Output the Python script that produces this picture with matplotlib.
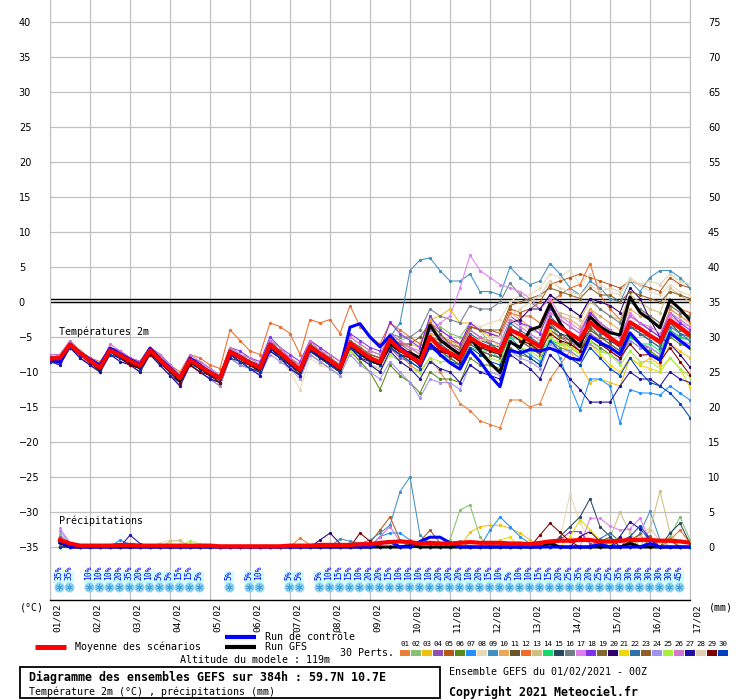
import numpy as np
import matplotlib
matplotlib.use("Agg")
import matplotlib.pyplot as plt
from matplotlib.patches import Rectangle

# ---------------------------------------------------------------- data
dates = ["01/02", "02/02", "03/02", "04/02", "05/02", "06/02", "07/02", "08/02", "09/02",
         "10/02", "11/02", "12/02", "13/02", "14/02", "15/02", "16/02", "17/02"]

member_colors = ["#e8803a", "#88c070", "#f0c010", "#9050b0", "#b85818", "#5a8a18",
                 "#1e90ff", "#e8dab8", "#4090c0", "#e8a858", "#6a5428", "#f06a28",
                 "#d0c080", "#18d868", "#284860", "#708088", "#e080f0", "#8030f0",
                 "#806830", "#300070", "#f0d800", "#3070a8", "#906028", "#a090f0",
                 "#a8f040", "#d078d0", "#2010a0", "#e0d0b0", "#800000", "#0040c0"]

# temperature 2m (°C), every 6h from 01/02 00Z to 17/02 00Z
t_mean = [-8.1, -8.0, -6.1, -7.3, -8.4, -9.4, -6.9, -7.6, -8.4, -9.1, -6.9, -8.3,
          -9.6, -10.9, -8.3, -9.2, -10.1, -10.9, -7.1, -7.9, -8.7, -9.4, -6.1, -7.3,
          -8.5, -9.7, -6.4, -7.4, -8.4, -9.4, -5.9, -7.0, -8.0, -8.6, -5.4, -6.8,
          -7.7, -8.7, -5.0, -6.5, -7.3, -8.0, -5.1, -6.0, -6.6, -7.1, -4.0, -4.6,
          -5.5, -6.4, -2.6, -3.6, -4.5, -5.4, -2.9, -4.0, -5.1, -6.1, -2.9, -3.8,
          -4.8, -5.7, -2.6, -3.6, -4.7]
t_ctrl = [-8.3, -8.6, -6.2, -7.3, -8.2, -9.0, -6.6, -7.4, -8.2, -8.9, -6.6, -8.1,
          -9.4, -10.8, -8.0, -9.0, -10.0, -10.8, -7.0, -7.8, -8.6, -9.3, -6.0, -7.3,
          -8.6, -9.8, -6.5, -7.6, -8.5, -9.5, -3.6, -3.1, -5.0, -6.4, -4.8, -6.5,
          -7.5, -9.0, -6.0, -7.5, -8.7, -9.6, -6.9, -8.5, -10.5, -12.1, -6.9, -7.3,
          -6.8, -7.0, -6.6, -7.2, -8.0, -8.3, -4.9, -5.8, -6.5, -7.5, -4.4, -6.0,
          -7.5, -8.3, -4.4, -5.5, -6.6]
t_gfs = [-8.0, -8.1, -6.0, -7.2, -8.5, -9.6, -7.0, -7.7, -8.6, -9.3, -7.0, -8.5,
         -9.8, -11.2, -8.5, -9.4, -10.3, -11.0, -7.2, -8.0, -8.8, -9.6, -6.3, -7.5,
         -8.7, -9.9, -6.6, -7.7, -8.6, -9.6, -6.1, -7.2, -8.2, -8.8, -6.0, -7.0,
         -7.3, -8.0, -3.3, -5.4, -6.5, -7.5, -5.0, -7.0, -8.7, -10.1, -5.7, -6.5,
         -4.0, -3.5, -0.3, -3.0, -5.0, -6.4, -2.1, -3.5, -4.4, -4.7, 0.7, -1.5,
         -2.5, -3.7, 0.3, -1.0, -2.6]

t01 = [-8, -8, -6, -7.5, -8.5, -9.5, -7, -7.5, -8, -9, -7, -8.5, -9.5, -11, -8, -9,
       -10, -11, -7, -8, -9, -9.5, -6, -7.5, -9, -10, -6.5, -7.5, -8.5, -9.5, -6, -7,
       -8, -9, -6.5, -7.5, -9, -10, -8, -10, -12, -14.5, -15.5, -17, -17.5, -18, -14, -14,
       -15, -14.5, -11, -9, -7, -5, -1, -3, -4, -5, -2, -3, -4, -5, -1, -2, -3]
t02 = [-8, -8, -6, -7, -8, -9, -6.5, -7.5, -8, -9, -6.5, -8, -9.5, -10.5, -8, -9,
       -10, -10.5, -6.5, -7.5, -8, -9, -5.5, -7, -8, -9, -6, -7, -8, -9, -5.5, -6.5,
       -7.5, -8, -5, -5.5, -5, -6, -2.5, -3.5, -4.5, -5, -3, -4, -6, -7, -4, -5,
       -6, -7, -3, -5.5, -6.5, -7.5, -5, -6, -7, -8, -5, -6, -7, -8, -4.5, -5.5, -6.5]
t03 = [-8, -8, -6, -7.5, -8.5, -9.5, -7, -7.5, -8.5, -9, -7, -8, -9.5, -11, -8.5, -9,
       -10, -11, -7, -8, -8.5, -9.5, -6, -7, -8.5, -9.5, -6.5, -7.5, -8, -9, -6, -7,
       -7.5, -8, -5, -6, -6, -6.5, -2.5, -2, -1, -3, -3, -4, -5, -6.5, -4, -5,
       -6, -7, -4, -6, -7, -9, -11.5, -11, -11.5, -12, -8, -9, -8, -9, -6, -7, -8]
t04 = [-8.5, -8.5, -6.5, -7.5, -8.5, -9.5, -7, -8, -8.5, -9.5, -7.5, -8.5, -10, -11, -8.5, -9.5,
       -10.5, -11, -7.5, -8.5, -9, -10, -6.5, -8, -9, -10, -7, -8, -9, -10, -6.5, -8,
       -9, -9.5, -6.5, -8, -8.5, -9.5, -6, -7, -8, -9, -5.5, -7, -7.5, -8, -4.5, -5.5,
       -6.5, -7.5, -4, -5, -5.5, -7, -4.5, -5.5, -7, -8, -5, -6, -6.5, -7.5, -4, -5, -5.5]
t05 = [-8, -7.5, -6, -7, -8, -9, -6.5, -7.5, -8, -9, -6.5, -8, -9.5, -10.5, -8, -9,
       -10, -10.5, -7, -7.5, -8.5, -9, -6, -7, -8, -9.5, -6, -7, -8, -9, -5.5, -6.5,
       -7.5, -8, -5, -6, -6.5, -7.5, -4.5, -5, -5.5, -6, -3.5, -4, -4, -4.5, -1, -1.5,
       -1, 0, 2.5, 3, 3.5, 4, 3.5, 3, 2.5, 2, 3, 2.5, 2, 1.5, 3.5, 2.5, 2]
t06 = [-8.5, -9, -6.5, -7.5, -9, -10, -7.5, -8, -9, -10, -7.5, -9, -10.5, -12, -9, -10,
       -11, -12, -8, -9, -9.5, -10.5, -7, -8, -9.5, -10.5, -7.5, -8.5, -9.5, -10.5, -7, -8.5,
       -10, -12.5, -9, -10.5, -11.5, -13, -10, -11, -11, -11.5, -8, -9, -9, -9.5, -6.5, -7.5,
       -8, -9, -5.5, -6.5, -7, -8, -5.5, -6.5, -7.5, -8.5, -5.5, -6.5, -7, -8, -5, -6, -6.5]
t07 = [-8, -8.5, -6.5, -7.5, -8.5, -9.5, -7, -8, -9, -9.5, -7.5, -8.5, -10, -11.5, -9, -9.5,
       -10.5, -11.5, -7.5, -8, -9, -10, -7, -8, -9, -10, -7, -8, -9, -10, -6.5, -7.5,
       -8.5, -9, -6.5, -7.5, -8, -9, -6, -7, -7.5, -8, -6, -7, -7.5, -8, -5, -6.5,
       -7.5, -8.5, -5, -8, -12, -15.4, -11, -11, -12, -17.3, -12.5, -13, -13, -13.3, -12, -13, -14]
t08 = [-8, -8, -6, -7, -8.5, -9.5, -7, -7.5, -8, -9, -7, -8, -9.5, -11, -8, -9,
       -10, -11, -7.5, -8, -9, -10, -7, -8, -10, -12.5, -8, -9, -9.5, -10.5, -7, -8,
       -9, -9.5, -6.5, -7.5, -8, -9, -6, -6.5, -6, -6.5, -3, -3.5, -3, -2.5, 0, 1,
       1, 2, 4, 3.5, 4.6, 2.5, 4, 2.5, 1.5, 1, 3.5, 2.5, 1.5, 1, 2.5, 1.5, 1]
t09 = [-8.5, -8.5, -6.5, -7.5, -8.5, -9.5, -7, -8, -8.5, -9.5, -7, -8.5, -10, -11, -8, -9,
       -10, -11, -7.5, -8.5, -9, -10, -6.5, -7.5, -8.5, -10, -7, -8, -9, -10, -6.5, -7.5,
       -7, -7.5, -5, -3, 4.5, 6, 6.3, 4.5, 3, 3, 4, 1.5, 1.5, 1, 5, 3.5,
       2.5, 3, 5.5, 4, 2, 1, 3, 2, 0.5, 0, 3, 1.5, 3.5, 4.5, 4.5, 3.5, 2]
t10 = [-7.5, -7.5, -5.5, -7, -8, -9, -6.5, -7, -8, -8.5, -6.5, -7.5, -9, -10.5, -8, -8.5,
       -9.5, -10.5, -6.5, -7.5, -8, -9, -5.5, -6.5, -8, -9, -5.5, -6.5, -7.5, -8.5, -5, -6,
       -7, -7.5, -4.5, -5.5, -6.5, -7.5, -4.5, -5, -5.5, -6.5, -3.5, -4, -4.5, -5, -1.5, -2.5,
       -3.5, -4, -1, -2, -2.5, -3.5, -1, -2, -3, -4, -1, -2, -2.5, -3.5, -0.5, -1.5, -2]
t11 = [-8.5, -8.5, -6.5, -7.5, -8.5, -9.5, -7, -8, -8.5, -9.5, -7, -8.5, -9.5, -11, -8.5, -9.5,
       -10.5, -11, -7, -8, -9, -9.5, -6.5, -7.5, -8.5, -10, -6.5, -7.5, -8.5, -9.5, -6, -7,
       -8, -8.5, -5, -6, -6, -5, -3, -4.5, -6, -7, -4, -5, -6, -7, -3.5, -5,
       -6, -7.5, -3, -4.5, -5.5, -6, -3.5, -5, -6, -7, -3.5, -4, -5, -6, -2.5, -3.5, -4.5]
t12 = [-8, -8, -6, -7, -8, -8.5, -6.5, -7, -8, -8.5, -6.5, -7.5, -9, -10, -7.5, -8,
       -9, -9.5, -4, -5.5, -7, -7.5, -3, -3.5, -4.5, -7.5, -2.5, -3, -2.5, -4.5, -0.5, -3.5,
       -5, -6, -3, -4, -5, -6, -3, -4, -5, -6, -3.5, -4, -4.5, -5, -1.5, -2,
       -2, -3, 0, 1, 2, 2.5, 5.5, 1, -1, -2.5, 0, -1, -2, -3, 0, -1, -1.5]
t13 = [-8, -8, -6, -7, -8, -9, -6.5, -7.5, -8, -9, -6.5, -8, -9.5, -10.5, -8, -9,
       -10, -11, -7, -8, -8.5, -9.5, -6, -7, -8.5, -9.5, -6, -7.5, -8, -9, -5.5, -7,
       -8, -8.5, -5.5, -6.5, -7.5, -8, -5, -6, -7, -7.5, -4.5, -5.5, -5.5, -6, -2.5, -3,
       -4, -4.5, -1, -1.5, -2, -2.5, 0, -1, -2, -2.5, 1, 0, -1, -1.5, 2, 1, 0]
t14 = [-8, -8, -6, -7.5, -8.5, -9.5, -7, -7.5, -8.5, -9, -7, -8.5, -9.5, -11, -8.5, -9,
       -10, -11, -7, -8, -8.5, -9.5, -6, -7.5, -8.5, -9.5, -6.5, -7.5, -8.5, -9.5, -6, -7,
       -8.5, -9, -6.5, -7.5, -8.5, -9.5, -6.5, -7.5, -8, -9, -6.5, -7, -7, -8, -5, -5.5,
       -6, -7, -5.5, -6, -6, -7, -5, -6, -6.5, -7.5, -5, -6, -6, -7, -4, -5, -5.5]
t15 = [-8.5, -8.5, -6, -7.5, -8.5, -9.5, -7, -8, -8.5, -9, -7, -8.5, -10, -11, -8.5, -9.5,
       -10.5, -11, -7, -8, -9, -9.5, -6.5, -7.5, -8.5, -9.5, -6.5, -7.5, -8.5, -9.5, -6, -7,
       -8, -8.5, -6, -7, -8, -9, -6, -7, -7.5, -8.5, -5.5, -6.5, -7, -7.5, -4, -5,
       -6, -7, -3.5, -4.5, -5, -6, -4, -5, -5.5, -6.5, -3.5, -4.5, -5.5, -6.5, -3, -4.5, -5]
t16 = [-8, -8, -6, -7, -8, -9, -6.5, -7.5, -8, -9, -6.5, -8, -9, -10.5, -8, -9,
       -10, -10.5, -7, -7.5, -8.5, -9, -6, -7, -8, -9.5, -6, -7, -8, -9, -5.5, -6.5,
       -7.5, -8, -4.5, -5, -5, -4, -1, -2, -2.5, -3, -0.5, -1, -1, 0, 2.7, 1,
       0, -1, 1, 0, -1, -2, 0.5, -1, -2, -3, 0, -1, -2, -3, -0.5, -1.5, -2]
t17 = [-7.5, -7.5, -6, -7, -8, -9, -6.5, -7, -8, -9, -6.5, -8, -9, -10.5, -8, -9,
       -10, -11, -7, -8, -8.5, -9, -6, -7, -8, -9, -6, -7, -8, -9, -5.5, -6.5,
       -7.5, -8, -5, -6, -6.5, -7.5, -4, -3, -2, 2, 6.7, 4.5, 3.5, 2.5, 2, 1.5,
       0.5, -1, 0.5, -2, -3, -4, -1.5, -3, -4, -5, -1.5, -3, -4, -5, -2, -3, -3.5]
t18 = [-7.5, -7.5, -6, -7, -8, -9, -6.5, -7, -8, -8.5, -6.5, -7.5, -9, -10.5, -8, -8.5,
       -9.5, -10.5, -6.5, -7, -8, -8.5, -5, -6.5, -7.5, -8.5, -5.5, -6.5, -7.5, -8.5, -4.5, -5.5,
       -6.5, -7, -2.9, -4.5, -5.5, -6.5, -2, -4, -5, -6, -3, -4, -4.5, -5, -2, -3,
       -3.5, -4.5, -1, -2.5, -3.5, -4.5, -1.5, -3, -4, -5, -2, -3, -4, -5, -1.5, -3, -4]
t19 = [-8.5, -8.5, -6.5, -7.5, -8.5, -10, -7, -8, -9, -9.5, -7, -8.5, -10, -11.5, -8.5, -9.5,
       -10.5, -11.5, -7.5, -8.5, -9, -10, -6.5, -7.5, -9, -10, -7, -8, -9, -10, -6.5, -7.5,
       -8.5, -9, -6.5, -7.5, -8, -9, -6, -7, -8, -9, -6, -7, -7.5, -8, -4.5, -5.5,
       -6.5, -7.5, -4, -5, -6, -7, -4, -5, -6, -7, -3.5, -4.5, -5, -6, -3, -4, -5]
t20 = [-8.5, -8.5, -6.5, -8, -9, -10, -7.5, -8, -9, -9.5, -7.5, -9, -10.5, -11.5, -9, -10,
       -11, -11.5, -7.5, -8.5, -9.5, -10, -7, -8, -9, -10.5, -7, -8, -9, -10, -6.5, -8,
       -8.5, -9, -6, -7, -8, -9, -6, -7, -7.5, -8.5, -5.5, -6.5, -6.5, -7, -3, -2.5,
       -1, -1, 1, 0, -1, -2, 0.5, 0, -0.5, -1.5, 2, 0.5, -2.5, -5, -6, -7.5, -9.3]
t21 = [-8, -8, -6, -7.5, -8.5, -9.5, -7, -7.5, -8.5, -9, -7, -8.5, -9.5, -11, -8.5, -9.5,
       -10, -11, -7, -8, -9, -9.5, -6.5, -7.5, -8.5, -10, -6.5, -7.5, -8.5, -9.5, -6, -7,
       -8, -8.5, -6, -7, -7.5, -8.5, -5.5, -6.5, -7, -8, -5, -6, -6.5, -7, -4, -5,
       -6, -7, -4, -6, -6, -7.5, -6, -7.5, -9, -10, -8, -9, -9.5, -10, -8, -9.5, -12.2]
t22 = [-8, -8.5, -6.5, -7.5, -8.5, -9.5, -7, -8, -8.5, -9, -7, -8.5, -9.5, -11, -8.5, -9.5,
       -10, -11, -7, -8, -8.5, -9.5, -6, -7.5, -8.5, -9.5, -6.5, -7.5, -8.5, -9.5, -6, -7,
       -8, -8.5, -5.5, -6.5, -7.5, -8, -5, -6, -7, -7.5, -4.5, -5.5, -6, -6.5, -3, -4,
       -5, -6, -2, -3.5, -4.5, -5.5, -3, -4.5, -5, -6.5, -3.5, -4.5, -5.5, -6.5, -3.5, -4.5, -5.5]
t23 = [-8, -8, -6, -7, -8, -9, -6.5, -7.5, -8, -9, -6.5, -8, -9.5, -10.5, -8, -9,
       -10, -10.5, -7, -7.5, -8.5, -9, -5.5, -7, -8, -9, -6, -7, -8, -9, -5.5, -6.5,
       -7.5, -8, -5, -6, -7, -8, -5, -5.5, -6, -6.5, -3.5, -4, -4, -4, -0.5, 0,
       0.5, 1, 2, 1.5, 1, 0.5, 2, 1, 1, 0, 1.5, 1, 0.5, 0, 1.5, 1, 0.5]
t24 = [-8.5, -8.5, -6.5, -7.5, -9, -10, -7.5, -8.5, -9, -10, -7.5, -9, -10.5, -12, -9, -10,
       -11, -12, -8, -9, -9.5, -10.5, -7.5, -8.5, -9.5, -11, -7.5, -8.5, -9.5, -10.5, -7.5, -9,
       -10, -11, -8.5, -10, -11.5, -13.7, -11, -11.5, -11.5, -12.5, -9, -10, -10, -10.5, -7, -8,
       -8.5, -9.5, -6, -7, -7, -8, -6, -7, -7.5, -8.5, -5.5, -6.5, -6.5, -7.5, -4.5, -5.5, -6]
t25 = [-8, -8, -6, -7, -8.5, -9.5, -7, -7.5, -8.5, -9, -6.5, -8, -9.5, -11, -8, -9,
       -10, -11, -6.5, -7.5, -8.5, -9.5, -6, -7.5, -9, -10, -7, -8, -9, -10, -7, -8,
       -9, -10, -7.5, -8.5, -9.5, -10.1, -8, -8.5, -8.5, -9, -6.5, -7.5, -8, -8.5, -5.5, -6.5,
       -7, -8, -5, -6, -6.5, -7.5, -5.5, -7, -7.5, -9, -7, -8.5, -8.5, -9.5, -8, -9.5, -10.7]
t26 = [-7.5, -7.5, -5.5, -7, -8, -9, -6, -7, -8, -8.5, -6.5, -7.5, -9, -10.5, -7.5, -8.5,
       -9.5, -10.5, -6.5, -7.5, -8, -9, -5.5, -6.5, -8, -9, -5.5, -7, -7.5, -8.5, -5, -6,
       -7, -7.5, -4.5, -5.5, -6.5, -7, -4, -5, -6, -7, -4, -5, -5.5, -6, -2.5, -3.5,
       -4.5, -5.5, -1.5, -2.5, -3.5, -4.5, -2, -3, -4, -5, -2, -3, -3.5, -4.5, -1.5, -2.5, -3.5]
t27 = [-8.5, -9, -6.5, -8, -9, -10, -7.5, -8.5, -9, -10, -7.5, -9, -10.5, -12, -9, -10,
       -11, -11.5, -8, -8.5, -9.5, -10.5, -7, -8, -9.5, -10.5, -7, -8, -9, -10, -6.5, -8,
       -9, -10, -7, -8.5, -9.5, -11, -8.5, -9.5, -10, -11.5, -9, -10, -10.5, -11, -7.5, -8.5,
       -9.5, -11, -7.5, -9, -11, -12.5, -14.3, -14.3, -14.3, -12, -10, -11, -11, -12, -10, -11, -11.5]
t28 = [-8, -8, -6, -7, -8.5, -9, -6.5, -7.5, -8.5, -9, -7, -8, -9.5, -10.5, -8, -9,
       -10, -10.5, -7, -8, -8.5, -9.5, -6.5, -7.5, -8.5, -9.5, -6.5, -7.5, -8.5, -9, -6, -7,
       -8, -8.5, -6, -7, -7.5, -8.5, -6, -6.5, -7, -7.5, -5, -5.5, -5, -5, -2, -1,
       0, 1, 3, 2, 1.5, 1, 2.5, 1.5, 2, 1.5, 3.1, 2.5, 3, 2.5, 4, 3, 2.5]
t29 = [-8.5, -8.5, -6.5, -7.5, -8.5, -9.5, -7, -8, -9, -9.5, -7.5, -8.5, -10, -11.5, -9, -10,
       -10.5, -11.5, -7.5, -8.5, -9, -10, -6.5, -8, -9, -10, -7, -8, -9, -10, -6, -7.5,
       -8.5, -9, -6.5, -7.5, -8, -9, -6, -7, -7.5, -8.5, -5.5, -6.5, -7, -7.5, -4.5, -5.5,
       -6, -7, -4.5, -5.5, -6, -7, -5, -6, -7, -8, -6, -7.6, -7.5, -8.5, -6.5, -8.5, -10.4]
t30 = [-8.5, -8.5, -6.5, -7.5, -8.5, -9.5, -7.5, -8, -8.5, -9.5, -7, -8.5, -9.5, -11, -8.5, -9.5,
       -10.5, -11, -7.5, -8.5, -9.5, -10, -6.5, -8, -9, -10, -7, -8, -9, -10, -6.5, -7.5,
       -8.5, -9, -6.5, -7.5, -8.5, -9.5, -6.5, -7.5, -8.5, -9, -6.5, -7.5, -8.5, -9, -5.5, -7,
       -8, -9, -5.5, -7, -8, -9, -6.5, -8, -9.5, -10.5, -8, -10, -11.5, -12, -13, -14.5, -16.5]
t_members = [t01, t02, t03, t04, t05, t06, t07, t08, t09, t10, t11, t12, t13, t14, t15,
             t16, t17, t18, t19, t20, t21, t22, t23, t24, t25, t26, t27, t28, t29, t30]

# precipitation (mm / 6h), steps 1..64 ; members given as {step: mm}, other steps 0
p_mean = [1.0, 0.5, 0.2, 0.2, 0.2, 0.2, 0.3, 0.3, 0.2, 0.2, 0.2, 0.2, 0.2, 0.2, 0.2, 0.2,
          0.1, 0.1, 0.1, 0.1, 0.1, 0.1, 0.1, 0.2, 0.2, 0.2, 0.3, 0.3, 0.3, 0.3, 0.4, 0.4,
          0.6, 0.7, 0.8, 0.7, 0.5, 0.6, 0.5, 0.5, 0.6, 0.7, 0.6, 0.6, 0.6, 0.5, 0.5, 0.4,
          0.6, 0.8, 0.9, 0.9, 1.0, 1.0, 0.8, 0.8, 0.9, 1.0, 1.0, 1.0, 0.9, 0.9, 0.8, 0.6]
p_ctrl = {1: 0.8, 33: 0.5, 34: 0.8, 37: 0.8, 38: 1.4, 39: 1.4, 40: 0.6, 55: 0.4, 60: 0.5}
p_gfs = {1: 0.6, 36: 0.2, 50: 0.5, 58: 0.5}
p_members = [
    {1: 0.6, 25: 1.3, 26: 0.3, 61: 0.8, 62: 1.2},
    {1: 1.8, 2: 0.4, 40: 1.0, 41: 5.3, 42: 6.0, 43: 1.4, 62: 1.5, 63: 4.3, 64: 1.0},
    {42: 2.1, 43: 2.9, 44: 3.1, 45: 3.1, 46: 2.7, 47: 2.0, 48: 1.0},
    {1: 1.5, 2: 0.3, 56: 0.8, 57: 1.2},
    {32: 0.6, 33: 2.4, 34: 4.3, 35: 1.0, 59: 1.0, 60: 1.6},
    {1: 0.9, 50: 0.6},
    {1: 0.5, 7: 1.0, 8: 0.4, 33: 1.5, 34: 2.0, 35: 2.0, 36: 1.0, 44: 2.4, 45: 4.3, 46: 2.9, 47: 1.5, 48: 0.5},
    {11: 0.6, 12: 1.0, 13: 0.8, 51: 1.2, 52: 7.6, 53: 3.4, 54: 1.0},
    {29: 1.2, 30: 0.8, 31: 0.5, 32: 1.0, 33: 2.0, 34: 3.1, 35: 7.9, 36: 10.0, 37: 1.7, 38: 0.5,
     59: 2.0, 60: 5.1, 61: 1.0},
    {1: 0.7, 57: 0.9, 58: 1.3},
    {55: 0.8, 56: 1.4, 62: 0.9},
    {1: 0.5, 62: 1.0, 63: 2.4, 64: 0.6},
    {12: 0.8, 13: 1.0, 56: 1.2, 57: 5.0, 58: 2.0, 60: 2.5, 61: 8.0, 62: 2.0},
    {48: 0.5, 60: 1.0},
    {51: 1.5, 52: 2.9, 53: 4.3, 54: 6.9, 55: 2.9, 56: 1.5, 62: 2.0, 63: 3.4, 64: 0.5},
    {1: 1.2, 2: 0.3, 41: 0.8},
    {1: 2.7, 2: 0.6, 54: 4.1, 55: 4.1, 56: 3.0, 57: 2.4, 58: 2.6, 59: 4.1, 60: 1.0},
    {51: 1.0, 52: 2.2, 53: 2.2, 54: 0.5},
    {49: 0.6, 58: 0.9},
    {27: 1.0, 28: 2.0, 29: 0.5, 53: 1.5, 54: 2.2, 55: 0.8},
    {45: 1.0, 46: 1.4, 52: 1.5, 53: 3.9, 54: 2.5, 55: 1.0},
    {55: 1.2, 56: 2.0, 57: 0.8},
    {37: 0.8, 38: 2.4, 39: 0.6, 58: 1.0, 59: 1.8},
    {1: 2.3, 2: 0.5, 55: 0.8},
    {14: 0.9, 15: 0.4, 56: 0.6, 57: 1.5},
    {1: 0.8, 33: 1.5, 34: 2.9, 35: 0.8, 57: 1.0},
    {8: 1.7, 9: 0.5, 57: 1.5, 58: 3.6, 59: 2.6, 60: 1.0},
    {59: 1.5, 60: 2.8, 61: 0.8},
    {31: 2.0, 32: 0.8, 49: 1.7, 50: 3.4, 51: 2.1, 52: 0.8},
    {57: 0.8, 58: 1.5, 59: 3.0, 60: 1.2},
]

# snow probability (%) per 6h step, 0 = no symbol
snow_pct = [35, 35, 0, 10, 10, 10, 20, 35, 20, 10, 5, 5, 15, 15, 5, 0, 0, 5, 0, 5, 10,
            0, 0, 5, 5, 0, 5, 10, 15, 15, 10, 20, 20, 15, 10, 10, 10, 10, 20, 20, 20, 10,
            20, 15, 10, 5, 10, 10, 15, 15, 20, 25, 35, 20, 25, 25, 35, 30, 30, 30, 30, 30, 45]

# ---------------------------------------------------------------- figure
MONO = "DejaVu Sans Mono"
W, H = 740, 700
fig = plt.figure(figsize=(W / 100, H / 100), dpi=100)

ax = fig.add_axes([50 / W, 100 / H, 640 / W, 600 / H])
ylo, yhi = -35 - 53 / 7, 40 + 22 / 7
ax.set_xlim(0, 384)
ax.set_ylim(ylo, yhi)

hours = np.arange(65) * 6
phours = hours[1:]


def expand(d):
    p = np.zeros(64)
    for k, v in d.items():
        p[k - 1] = v
    return p


for k, (t, c) in enumerate(zip(t_members, member_colors)):
    ax.plot(hours[:len(t)], t, color=c, lw=0.75, marker=".", ms=2.6, zorder=3)
    ax.plot(phours, expand(p_members[k]) - 35, color=c, lw=0.75, marker=".", ms=2.6, zorder=3)

ax.plot(hours, t_gfs, color="black", lw=2.2, zorder=4)
ax.plot(phours, expand(p_gfs) - 35, color="black", lw=2.2, zorder=4)
ax.plot(hours, t_ctrl, color="#0000ff", lw=2.2, zorder=5)
ax.plot(phours, expand(p_ctrl) - 35, color="#0000ff", lw=2.2, zorder=5)
ax.plot(hours, t_mean, color="#ff0000", lw=3.0, zorder=6)
ax.plot(phours, np.array(p_mean) - 35, color="#ff0000", lw=3.0, zorder=6)

# 0°C double line
ax.axhline(0.05, color="black", lw=1.0, zorder=2)
ax.axhline(0.47, color="black", lw=1.0, zorder=2)

ax.set_xticks(np.arange(0, 385, 24))
ax.set_yticks(np.arange(-35, 41, 5))
ax.grid(color="#c0c0c0", lw=0.9, zorder=0)
ax.set_axisbelow(True)
ax.set_xticklabels([])
ax.tick_params(axis="x", length=0)
ax.tick_params(axis="y", length=0, pad=22.5, labelsize=7)
for lab in ax.get_yticklabels():
    lab.set_horizontalalignment("left")
for s in ("left", "right"):
    ax.spines[s].set_color("#c0c0c0")
ax.spines["top"].set_visible(False)
ax.spines["bottom"].set_color("black")
ax.spines["bottom"].set_linewidth(1.0)

ax2 = ax.twinx()
ax2.set_ylim(ylo + 35, yhi + 35)
ax2.set_yticks(np.arange(0, 76, 5))
ax2.tick_params(axis="y", length=0, pad=13, labelsize=7)
for s in ax2.spines.values():
    s.set_visible(False)

# date labels
for i, d in enumerate(dates):
    ax.text(i * 24 + 4.2, -0.005, d, transform=ax.get_xaxis_transform(), rotation=90,
            ha="center", va="top", fontsize=6.8, family=MONO)

ax.text(5.4, -4.3, "Températures 2m", fontsize=7.2, family=MONO, va="center", zorder=7)
ax.text(5.4, -31.3, "Précipitations", fontsize=7.2, family=MONO, va="center", zorder=7)

# snow symbols
for k, v in enumerate(snow_pct):
    if v == 0:
        continue
    tx = 5.4 + 6 * k
    ax.add_patch(Rectangle((tx - 3, -40.14), 6, 1.71, color="#ccffff", lw=0, zorder=2))
    ax.scatter([tx], [-40.7], s=52, color="#8fd3f0", zorder=3, lw=0)
    ax.scatter([tx], [-40.7], s=22, marker=(6, 2, 0), color="#3f9fe0", lw=0.5, zorder=4)
    ax.text(tx, -39.7, f"{v}%", rotation=90, ha="center", va="bottom", color="#0000ff",
            fontsize=5.8, family=MONO, zorder=5)

# ---------------------------------------------------------------- legend / captions
ov = fig.add_axes([0, 0, 1, 1])
ov.set_xlim(0, W)
ov.set_ylim(H, 0)
ov.axis("off")

ov.text(20, 607, "(°C)", fontsize=7.2, family=MONO, va="center")
ov.text(709, 607, "(mm)", fontsize=7.2, family=MONO, va="center")

ov.plot([35, 66], [647, 647], color="#ff0000", lw=3.6, solid_capstyle="butt")
ov.text(75, 647, "Moyenne des scénarios", fontsize=7.2, family=MONO, va="center")
ov.plot([225, 256], [637, 637], color="#0000ff", lw=3.0, solid_capstyle="butt")
ov.text(265, 637, "Run de contrôle", fontsize=7.2, family=MONO, va="center")
ov.plot([225, 256], [647, 647], color="black", lw=3.0, solid_capstyle="butt")
ov.text(265, 647, "Run GFS", fontsize=7.2, family=MONO, va="center")
ov.text(180, 660, "Altitude du modele : 119m", fontsize=7.2, family=MONO, va="center")
ov.text(340, 653, "30 Perts.", fontsize=7.2, family=MONO, va="center")

for j, c in enumerate(member_colors):
    x0 = 400 + j * 10.97
    ov.add_patch(Rectangle((x0, 650), 10, 5.5, color=c, lw=0))
    ov.text(x0 + 5, 644, f"{j + 1:02d}", fontsize=5.4, family=MONO, ha="center", va="center")

ov.add_patch(Rectangle((20, 667), 420, 31, fill=False, lw=1.3, edgecolor="black"))
ov.text(29, 677, "Diagramme des ensembles GEFS sur 384h : 59.7N 10.7E", fontsize=8.4,
        family=MONO, weight="bold", va="center")
ov.text(29, 692, "Température 2m (°C) , précipitations (mm)", fontsize=7.2, family=MONO,
        va="center")
ov.text(449, 672, "Ensemble GEFS du 01/02/2021 - 00Z", fontsize=7.2, family=MONO, va="center")
ov.text(449, 692, "Copyright 2021 Meteociel.fr", fontsize=8.4, family=MONO, weight="bold",
        va="center")

fig.savefig("out.png", dpi=100)
